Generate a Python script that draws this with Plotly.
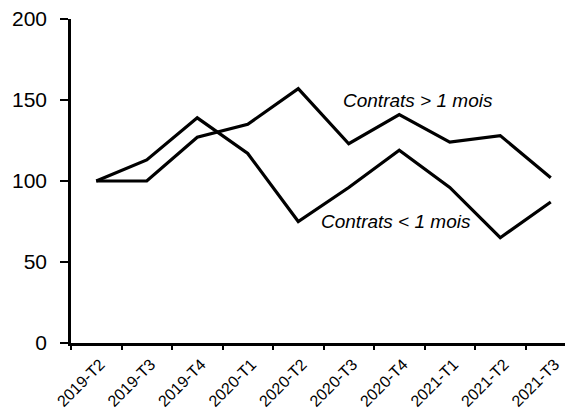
import plotly.graph_objects as go

categories = ["2019-T2", "2019-T3", "2019-T4", "2020-T1", "2020-T2",
              "2020-T3", "2020-T4", "2021-T1", "2021-T2", "2021-T3"]
contrats_plus_1_mois = [100, 100, 127, 135, 157, 123, 141, 124, 128, 102]
contrats_moins_1_mois = [100, 113, 139, 117, 75, 96, 119, 96, 65, 87]
y_ticks = [0, 50, 100, 150, 200]

FONT = "Liberation Sans, Arial, sans-serif"

fig = go.Figure()
fig.add_trace(go.Scatter(x=categories, y=contrats_plus_1_mois, mode="lines",
                         line=dict(color="black", width=3.2), name="Contrats > 1 mois"))
fig.add_trace(go.Scatter(x=categories, y=contrats_moins_1_mois, mode="lines",
                         line=dict(color="black", width=3.2), name="Contrats < 1 mois"))

fig.add_annotation(x=6.37, y=149.4, xref="x", yref="y", text="<i>Contrats > 1 mois</i>",
                   showarrow=False, font=dict(family=FONT, size=19, color="black"))
fig.add_annotation(x=5.94, y=74.7, xref="x", yref="y", text="<i>Contrats < 1 mois</i>",
                   showarrow=False, font=dict(family=FONT, size=19, color="black"))

fig.update_layout(
    width=573, height=411,
    margin=dict(l=63, r=5, t=11, b=76, autoexpand=False),
    paper_bgcolor="white", plot_bgcolor="white",
    showlegend=False,
    font=dict(family=FONT, color="black"),
)
fig.update_xaxes(
    type="category", range=[-0.5, 9.5], automargin=False,
    showgrid=False, zeroline=False,
    showline=True, linecolor="black", linewidth=2.5,
    ticks="outside", tickson="boundaries", ticklen=4, tickwidth=2, tickcolor="black",
    tickangle=-45, ticklabelshift=4, ticklabelstandoff=3,
    ticklabeloverflow="allow",
    tickfont=dict(family=FONT, size=16, color="black"),
)
fig.update_yaxes(
    range=[0, 200], tickvals=y_ticks, automargin=False,
    showgrid=False, zeroline=False,
    showline=True, linecolor="black", linewidth=2.5,
    ticks="outside", ticklen=8, tickwidth=2, tickcolor="black",
    ticklabelstandoff=9, ticklabeloverflow="allow",
    tickfont=dict(family=FONT, size=21, color="black"),
)

fig.write_html("out.html")
